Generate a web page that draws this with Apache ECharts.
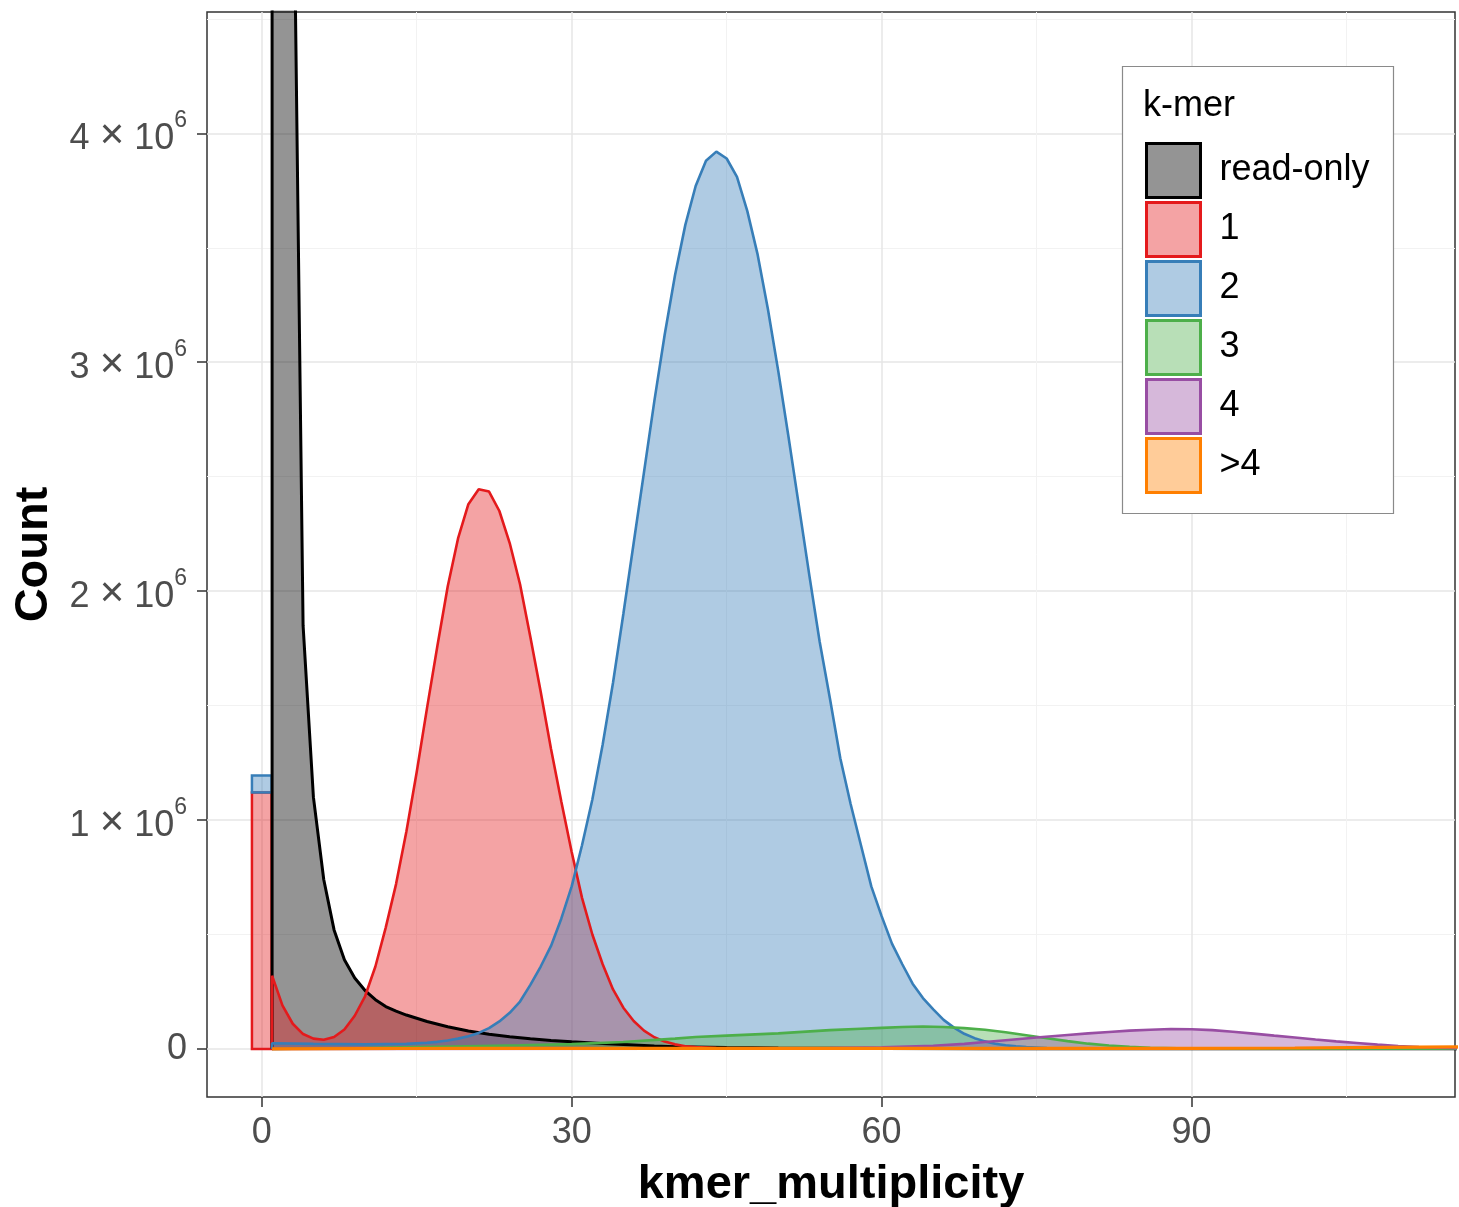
<!DOCTYPE html>
<html lang="en">
<head>
    <meta charset="UTF-8">
    <title>spectra-cn</title>
    <script src="https://cdn.jsdelivr.net/npm/echarts@6.0.0/dist/echarts.min.js"></script>
</head>
<style>
    body{
        margin: 0;
        padding: 0;
        background: #fff;
    }
</style>
<body>
<div id="main" style="width: 1459px;height:1207px;"></div>
<script>
    // counts are in millions (axis labels show "n x 10^6")
    var readOnly = [[1,0],[1,40],[2,12],[3,5.5],[4,1.85],[5,1.1],[6,0.74],[7,0.52],[8,0.39],[9,0.31],[10,0.255],
        [11,0.215],[12,0.185],[13,0.165],[14,0.148],[15,0.134],[16,0.12],[18,0.097],[20,0.078],[22,0.064],[24,0.053],
        [26,0.044],[28,0.037],[30,0.031],[32,0.026],[34,0.021],[36,0.017],[38,0.013],[40,0.01],[45,0.006],[50,0.004],
        [60,0.002],[70,0.001],[116,0.001]];
    var copy1 = [[1,0],[1,0.32],[2,0.19],[3,0.11],[4,0.065],[5,0.045],[6,0.04],[7,0.052],[8,0.085],[9,0.145],[10,0.23],
        [11,0.36],[12,0.53],[13,0.72],[14,0.95],[15,1.21],[16,1.49],[17,1.76],[18,2.02],[19,2.23],[20,2.38],[21,2.445],
        [22,2.435],[23,2.35],[24,2.21],[25,2.03],[26,1.8],[27,1.56],[28,1.31],[29,1.08],[30,0.86],[31,0.66],[32,0.5],
        [33,0.37],[34,0.26],[35,0.18],[36,0.122],[37,0.08],[38,0.051],[39,0.032],[40,0.02],[41,0.012],[42,0.008],
        [44,0.004],[46,0.002],[50,0.001],[60,0.001],[116,0.0005]];
    var copy2 = [[1,0],[1,0.025],[5,0.022],[10,0.02],[14,0.022],[16,0.027],[17,0.031],[18,0.037],[19,0.045],[20,0.055],
        [21,0.07],[22,0.091],[23,0.12],[24,0.158],[25,0.207],[26,0.28],[27,0.36],[28,0.45],[29,0.57],[30,0.71],[31,0.89],
        [32,1.09],[33,1.33],[34,1.6],[35,1.9],[36,2.21],[37,2.52],[38,2.83],[39,3.12],[40,3.38],[41,3.6],[42,3.77],
        [43,3.88],[44,3.92],[45,3.89],[46,3.81],[47,3.66],[48,3.47],[49,3.23],[50,2.96],[51,2.67],[52,2.37],[53,2.07],
        [54,1.78],[55,1.53],[56,1.27],[57,1.07],[58,0.89],[59,0.71],[60,0.58],[61,0.46],[62,0.37],[63,0.285],[64,0.222],
        [65,0.173],[66,0.127],[67,0.093],[68,0.066],[69,0.047],[70,0.033],[71,0.023],[72,0.016],[73,0.011],[74,0.008],
        [76,0.004],[78,0.002],[80,0.001],[116,0.0005]];
    var copy3 = [[1,0],[1,0.002],[5,0.002],[10,0.004],[15,0.008],[20,0.012],[25,0.016],[30,0.021],[35,0.03],[40,0.045],
        [42,0.052],[45,0.058],[50,0.068],[55,0.082],[58,0.088],[60,0.092],[62,0.096],[64,0.098],[66,0.096],[68,0.091],
        [70,0.084],[72,0.073],[74,0.06],[76,0.047],[78,0.034],[80,0.023],[82,0.015],[84,0.009],[86,0.005],[90,0.002],
        [95,0.001],[116,0.0005]];
    var copy4 = [[1,0],[1,0.001],[40,0.001],[50,0.002],[55,0.004],[60,0.007],[65,0.014],[68,0.022],[70,0.03],[72,0.038],
        [75,0.05],[78,0.061],[80,0.068],[82,0.074],[84,0.08],[86,0.084],[88,0.087],[90,0.086],[92,0.082],[94,0.075],
        [96,0.067],[98,0.058],[100,0.05],[102,0.041],[104,0.033],[106,0.026],[108,0.019],[110,0.013],[112,0.008],
        [114,0.005],[116,0.003]];
    var copyMore = [[1,0],[1,0.003],[20,0.003],[60,0.002],[90,0.002],[100,0.004],[108,0.007],[116,0.009]];
    // asm-only k-mers at multiplicity 0, by copy number (1, 2)
    var asmOnly = [1.12, 0.075];

    var kmerNames = ['read-only', '1', '2', '3', '4', '>4'];
    var kmerColors = ['#000000', '#E41A1C', '#377EB8', '#4DAF4A', '#984EA3', '#FF7F00'];
    var kmerData = [readOnly, copy1, copy2, copy3, copy4, copyMore];

    var xBreaks = [0, 30, 60, 90];
    var xMinor = [15, 45, 75, 105];
    var yBreaks = [0, 1, 2, 3, 4];
    var yMinor = [0.5, 1.5, 2.5, 3.5, 4.5];

    var FONT = 'Liberation Sans, Arial, sans-serif';
    var xMin = -5.3, xMax = 115.5, yMin = -0.21, yMax = 4.53;

    function fillOf(hex, a) {
        var r = parseInt(hex.substr(1,2),16), g = parseInt(hex.substr(3,2),16), b = parseInt(hex.substr(5,2),16);
        return 'rgba(' + r + ',' + g + ',' + b + ',' + a + ')';
    }

    // stacked bar at 0
    var barData = [];
    var base = 0;
    for (var i = 0; i < asmOnly.length; i++) {
        barData.push([0, base, base + asmOnly[i], i + 1]);
        base += asmOnly[i];
    }

    var series = [{
        name: 'asm-only',
        type: 'custom',
        data: barData,
        encode: {x: 0, y: [1, 2]},
        renderItem: function (params, api) {
            var half = 0.95;
            var p0 = api.coord([api.value(0) - half, api.value(2)]);
            var p1 = api.coord([api.value(0) + half, api.value(1)]);
            var c = kmerColors[api.value(3)];
            return {
                type: 'rect',
                shape: {x: p0[0], y: p0[1], width: p1[0] - p0[0], height: p1[1] - p0[1]},
                style: {fill: fillOf(c, 0.4), stroke: c, lineWidth: 2.5}
            };
        }
    }];
    for (var k = 0; k < kmerNames.length; k++) {
        series.push({
            name: kmerNames[k],
            type: 'line',
            data: kmerData[k],
            symbol: 'none',
            smooth: false,
            lineStyle: {color: kmerColors[k], width: k == 0 ? 3 : (k == 5 ? 3.2 : 2.6)},
            itemStyle: {color: kmerColors[k]},
            areaStyle: {color: fillOf(kmerColors[k], k == 0 ? 0.42 : 0.4), opacity: 1, origin: 0}
        });
    }

    var legendData = kmerNames.map(function (n, i) {
        return {
            name: n,
            icon: 'rect',
            itemStyle: {color: fillOf(kmerColors[i], i == 0 ? 0.42 : 0.4), borderColor: kmerColors[i], borderWidth: 3}
        };
    });

    var chart = echarts.init(document.getElementById('main'));
    var option = {
        animation: false,
        backgroundColor: '#fff',
        grid: {
            left: 207, right: 4, top: 12, bottom: 110,
            show: true, borderColor: '#333333', borderWidth: 1.5,
            outerBoundsMode: 'none'
        },
        xAxis: [{
            type: 'value', min: xMin, max: xMax,
            name: 'kmer_multiplicity', nameLocation: 'middle', nameGap: 65,
            nameTextStyle: {fontSize: 47, fontWeight: 'bold', color: '#000', fontFamily: FONT},
            axisLine: {show: false, onZero: false},
            axisTick: {show: true, length: 10, customValues: xBreaks, lineStyle: {color: '#333', width: 1.5}},
            axisLabel: {customValues: xBreaks, fontSize: 36, color: '#4d4d4d', fontFamily: FONT, margin: 18},
            splitLine: {show: true, lineStyle: {color: '#e6e6e6', width: 1.5}}
        }, {
            type: 'value', min: xMin, max: xMax, position: 'bottom',
            axisLine: {show: false, onZero: false},
            axisTick: {show: false, customValues: xMinor},
            axisLabel: {show: false, customValues: xMinor},
            splitLine: {show: true, lineStyle: {color: '#f2f2f2', width: 1}}
        }],
        yAxis: [{
            type: 'value', min: yMin, max: yMax,
            name: 'Count', nameLocation: 'middle', nameGap: 149, nameRotate: 90,
            nameTextStyle: {fontSize: 47, fontWeight: 'bold', color: '#000', fontFamily: FONT},
            axisLine: {show: false, onZero: false},
            axisTick: {show: true, length: 10, customValues: yBreaks, lineStyle: {color: '#333', width: 1.5}},
            axisLabel: {
                customValues: yBreaks, margin: 20,
                formatter: function (v) {
                    if (v === 0) return '{z|0}';
                    return '{t|\u200b}{b|' + v + ' }{x|\u00d7}{b| 10}{s|6}';
                },
                rich: {
                    z: {fontSize: 36, color: '#4d4d4d', fontFamily: FONT, lineHeight: 48},
                    t: {fontSize: 10, lineHeight: 48},
                    b: {fontSize: 36, color: '#4d4d4d', fontFamily: FONT, lineHeight: 36, verticalAlign: 'bottom'},
                    x: {fontSize: 42, color: '#4d4d4d', fontFamily: FONT, lineHeight: 36, verticalAlign: 'bottom'},
                    s: {fontSize: 23, color: '#4d4d4d', fontFamily: FONT, lineHeight: 31, verticalAlign: 'top'}
                }
            },
            splitLine: {show: true, lineStyle: {color: '#e6e6e6', width: 1.5}}
        }, {
            type: 'value', min: yMin, max: yMax,
            axisLine: {show: false, onZero: false},
            axisTick: {show: false, customValues: yMinor},
            axisLabel: {show: false, customValues: yMinor},
            splitLine: {show: true, lineStyle: {color: '#f2f2f2', width: 1}}
        }],
        legend: {
            data: legendData,
            orient: 'vertical',
            left: 1145, top: 142,
            padding: 0,
            itemWidth: 54, itemHeight: 54, itemGap: 2,
            selectedMode: false,
            z: 6,
            textStyle: {fontSize: 36, color: '#000', fontFamily: FONT, padding: [0, 0, 0, 14]}
        },
        graphic: [{
            type: 'rect', z: 5,
            shape: {x: 1122.5, y: 66.5, width: 271, height: 447},
            style: {fill: '#fff', stroke: '#8a8a8a', lineWidth: 1.2}
        }, {
            type: 'text', z: 6, left: 1143, top: 88,
            style: {text: 'k-mer', fontSize: 36, fill: '#000', fontFamily: FONT}
        }],
        series: series
    };
    chart.setOption(option);
</script>
</body>
</html>
